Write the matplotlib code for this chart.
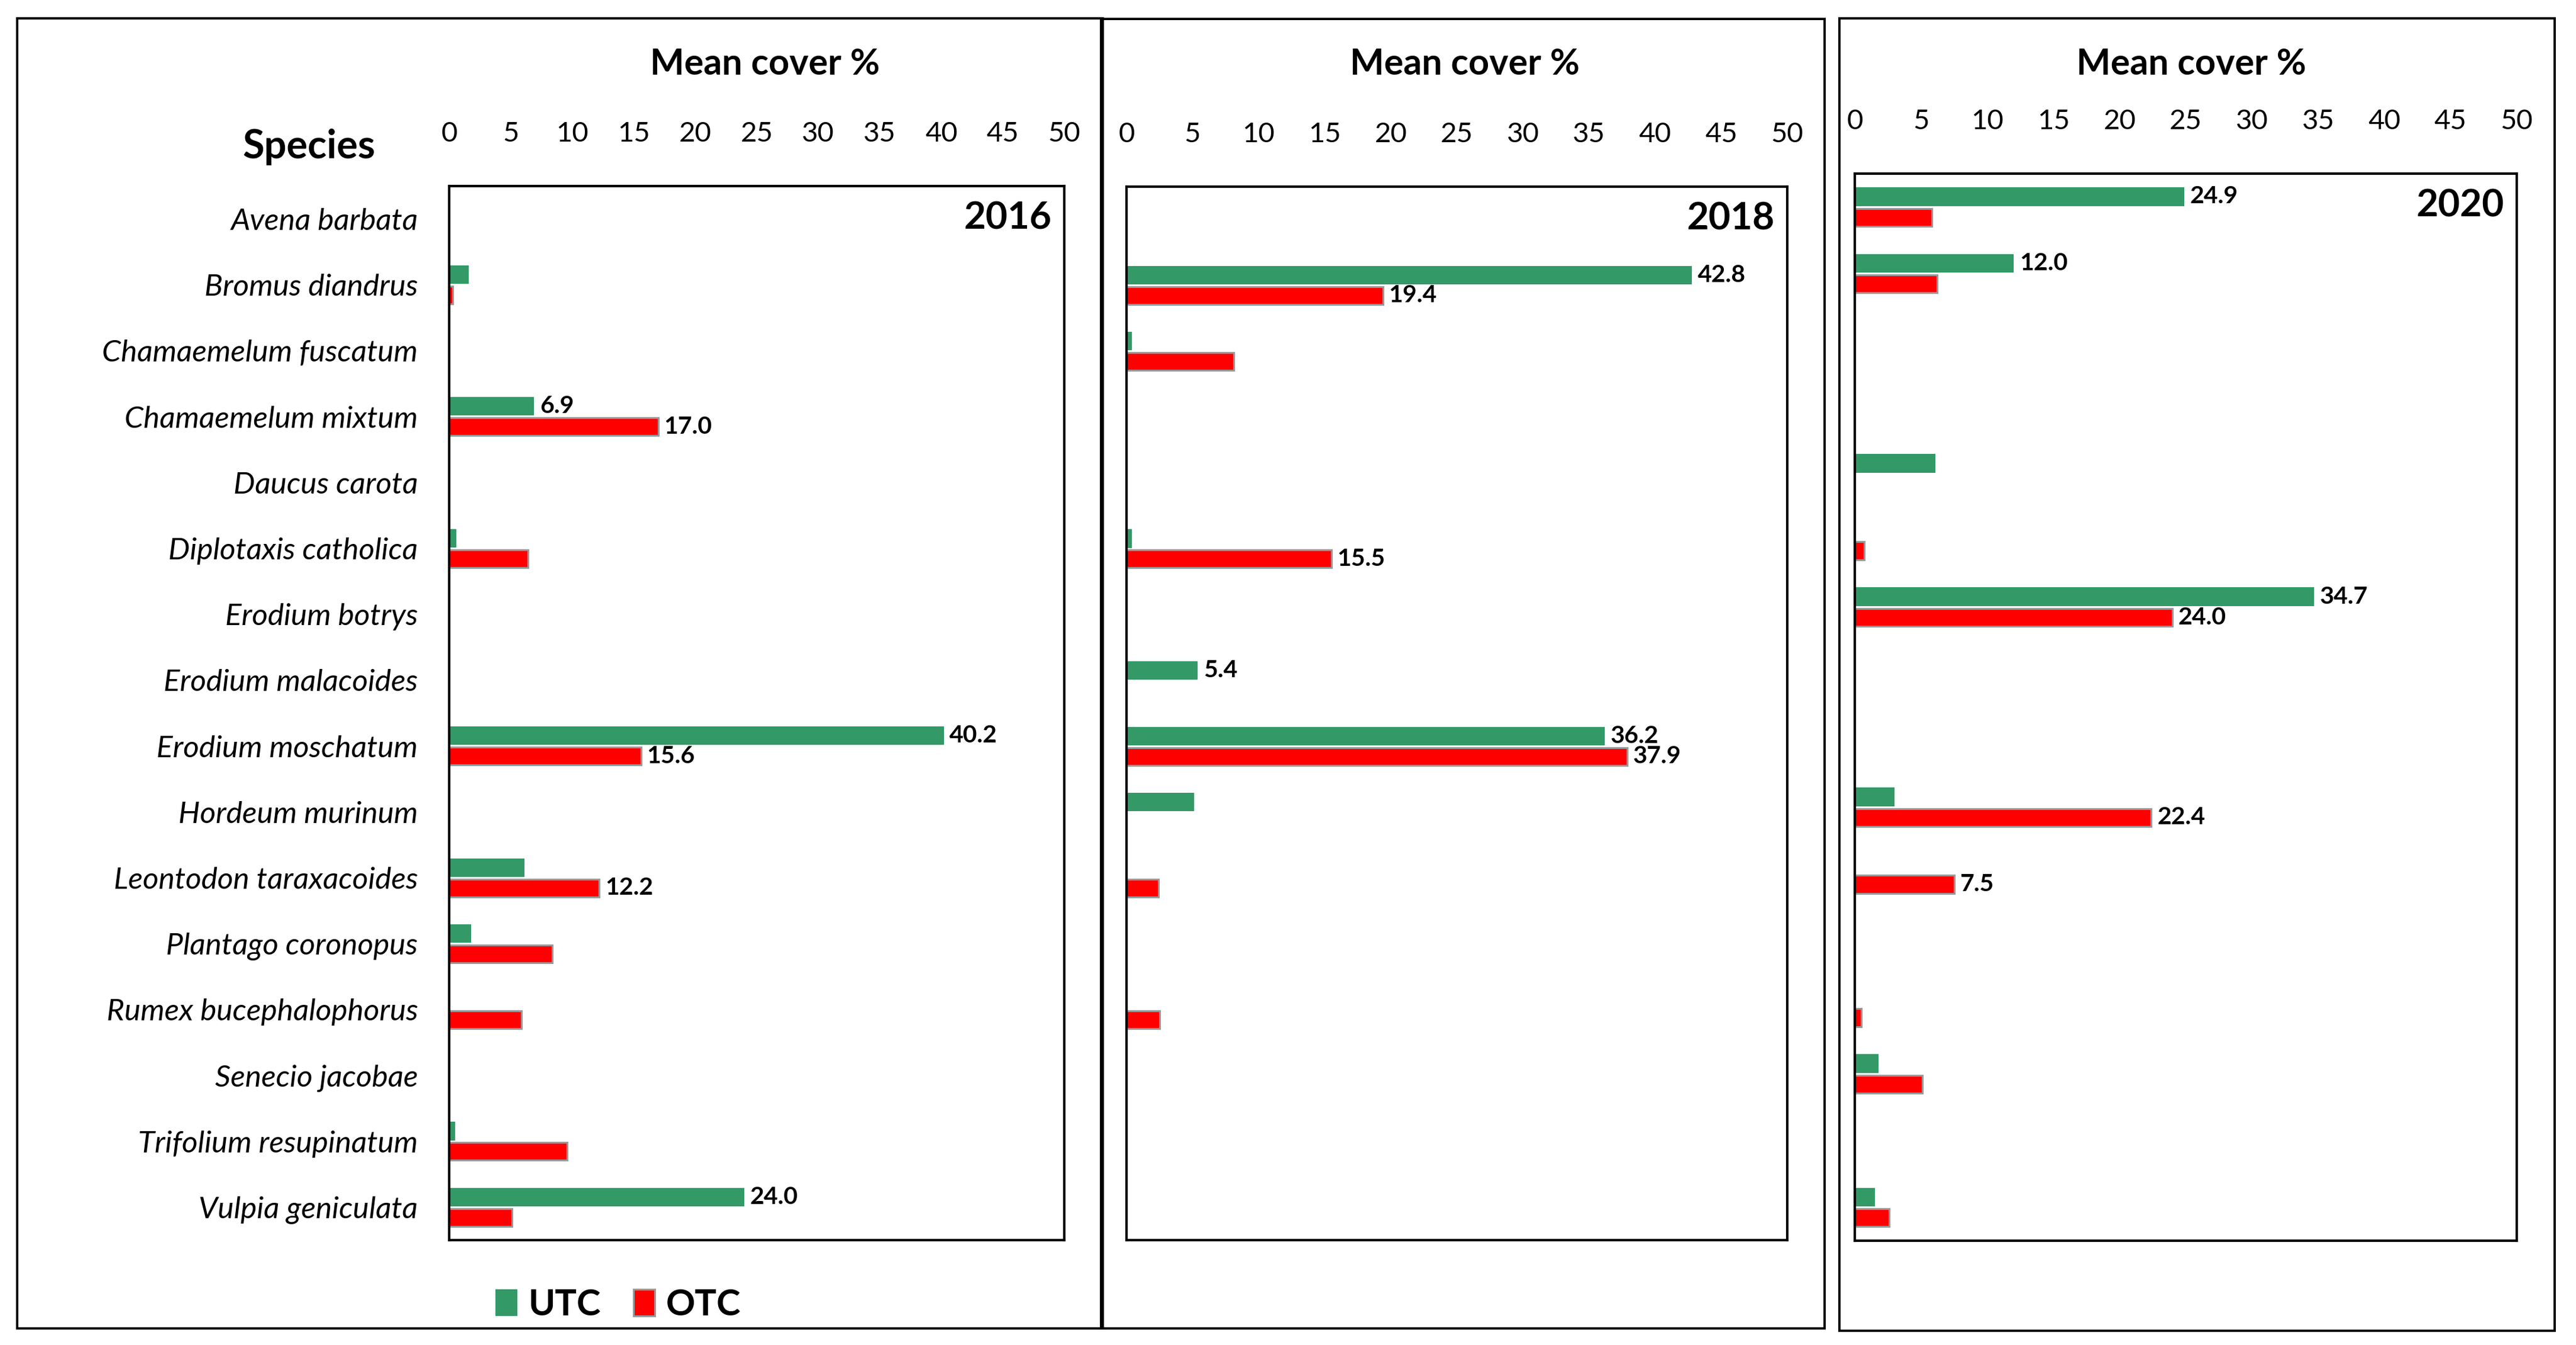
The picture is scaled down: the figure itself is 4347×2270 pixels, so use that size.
#!/usr/bin/env python3
"""Mean cover % of species under UTC and OTC treatments, 2016 / 2018 / 2020."""

import numpy as np
import matplotlib
matplotlib.use("Agg")
import matplotlib.pyplot as plt
from matplotlib.patches import Rectangle, Patch

plt.rcParams["font.family"] = ["Lato", "DejaVu Sans"]

species = [
    "Avena barbata", "Bromus diandrus", "Chamaemelum fuscatum",
    "Chamaemelum mixtum", "Daucus carota", "Diplotaxis catholica",
    "Erodium botrys", "Erodium malacoides", "Erodium moschatum",
    "Hordeum murinum", "Leontodon taraxacoides", "Plantago coronopus",
    "Rumex bucephalophorus", "Senecio jacobae", "Trifolium resupinatum",
    "Vulpia geniculata",
]
years = ["2016", "2018", "2020"]
series = ["UTC", "OTC"]
x_ticks = [0, 5, 10, 15, 20, 25, 30, 35, 40, 45, 50]

utc_2016 = [0, 1.6, 0, 6.9, 0, 0.6, 0, 0, 40.2, 0, 6.1, 1.8, 0, 0, 0.5, 24.0]
otc_2016 = [0, 0.3, 0, 17.0, 0, 6.4, 0, 0, 15.6, 0, 12.2, 8.4, 5.9, 0, 9.6, 5.1]
utc_2018 = [0, 42.8, 0.4, 0, 0, 0.4, 0, 5.4, 36.2, 5.1, 0, 0, 0, 0, 0, 0]
otc_2018 = [0, 19.4, 8.1, 0, 0, 15.5, 0, 0, 37.9, 0, 2.4, 0, 2.5, 0, 0, 0]
utc_2020 = [24.9, 12.0, 0, 0, 6.1, 0, 34.7, 0, 0, 3.0, 0, 0, 0, 1.8, 0, 1.5]
otc_2020 = [5.8, 6.2, 0, 0, 0, 0.7, 24.0, 0, 0, 22.4, 7.5, 0, 0.5, 5.1, 0, 2.6]

# which bars carry a value label
utc_2016_labelled = ["Chamaemelum mixtum", "Erodium moschatum", "Vulpia geniculata"]
otc_2016_labelled = ["Chamaemelum mixtum", "Erodium moschatum", "Leontodon taraxacoides"]
utc_2018_labelled = ["Bromus diandrus", "Erodium malacoides", "Erodium moschatum"]
otc_2018_labelled = ["Bromus diandrus", "Diplotaxis catholica", "Erodium moschatum"]
utc_2020_labelled = ["Avena barbata", "Bromus diandrus", "Erodium botrys"]
otc_2020_labelled = ["Erodium botrys", "Hordeum murinum", "Leontodon taraxacoides"]

GREEN = "#339966"
RED = "#ff0000"
EDGE = "#999999"

W, H = 4347, 2270


def fx(px):
    return px / W


def fy(py):
    return 1 - py / H


def box(left, top, right, bottom):
    return [fx(left), fy(bottom), fx(right) - fx(left), fy(top) - fy(bottom)]


def draw_panel(ax, utc, otc, utc_lab, otc_lab, year, show_species):
    y = np.arange(len(species))
    utc = np.asarray(utc, dtype=float)
    otc = np.asarray(otc, dtype=float)
    hu = utc > 0
    ho = otc > 0
    ax.barh(y[hu] - 0.155, utc[hu], height=0.28, color=GREEN, linewidth=0)
    ax.barh(y[ho] + 0.155, otc[ho], height=0.27, color=RED,
            edgecolor=EDGE, linewidth=2.2)

    for name in utc_lab:
        i = species.index(name)
        ax.annotate(f"{utc[i]:.1f}", xy=(utc[i], i - 0.155), xytext=(7, 0),
                    textcoords="offset points", va="center", ha="left",
                    fontsize=29.5, fontweight="bold")
    for name in otc_lab:
        i = species.index(name)
        ax.annotate(f"{otc[i]:.1f}", xy=(otc[i], i + 0.155), xytext=(7, 0),
                    textcoords="offset points", va="center", ha="left",
                    fontsize=29.5, fontweight="bold")

    ax.set_xlim(0, 50)
    ax.set_ylim(len(species) - 0.5, -0.5)
    ax.xaxis.tick_top()
    ax.set_xticks(x_ticks)
    ax.tick_params(axis="x", length=0, pad=48, labelsize=34)
    ax.set_yticks(y)
    if show_species:
        ax.set_yticklabels(species, fontsize=37, fontstyle="italic")
        ax.tick_params(axis="y", length=0, pad=38)
    else:
        ax.set_yticklabels([])
        ax.tick_params(axis="y", length=0)
    for sp in ax.spines.values():
        sp.set_linewidth(3)
        sp.set_color("black")

    ax.annotate(year, xy=(1, 1), xycoords="axes fraction", xytext=(-15, -39),
                textcoords="offset points", ha="right", va="center",
                fontsize=46, fontweight="bold")


fig = plt.figure(figsize=(W / 100, H / 100), dpi=100)

# outer frames around each panel
for left, top, right, bottom in [(29, 31, 1861, 2242), (1858, 32, 3079, 2242),
                                 (3104, 31, 4311, 2246)]:
    fig.add_artist(Rectangle((fx(left), fy(bottom)), fx(right) - fx(left),
                             fy(top) - fy(bottom), transform=fig.transFigure,
                             fill=False, edgecolor="black", linewidth=2.8))

ax1 = fig.add_axes(box(758, 314, 1796, 2093))
ax2 = fig.add_axes(box(1901, 315, 3016, 2093))
ax3 = fig.add_axes(box(3130, 293, 4247, 2094))

draw_panel(ax1, utc_2016, otc_2016, utc_2016_labelled, otc_2016_labelled, years[0], True)
draw_panel(ax2, utc_2018, otc_2018, utc_2018_labelled, otc_2018_labelled, years[1], False)
draw_panel(ax3, utc_2020, otc_2020, utc_2020_labelled, otc_2020_labelled, years[2], False)

for xc in [1291, 2472, 3698]:
    fig.text(fx(xc), fy(108), "Mean cover %", ha="center", va="center",
             fontsize=44, fontweight="bold")
fig.text(fx(521), fy(248), "Species", ha="center", va="center",
         fontsize=48, fontweight="bold")

handles = [Patch(facecolor=GREEN, edgecolor=GREEN, linewidth=0),
           Patch(facecolor=RED, edgecolor=EDGE, linewidth=2.2)]
fig.legend(handles, series, loc="center", bbox_to_anchor=(fx(1043), fy(2202)),
           ncol=2, frameon=False, handlelength=0.6, handleheight=0.75,
           handletextpad=0.3, columnspacing=0.9,
           prop={"size": 44, "weight": "bold"})

fig.savefig("out.png", dpi=100)
